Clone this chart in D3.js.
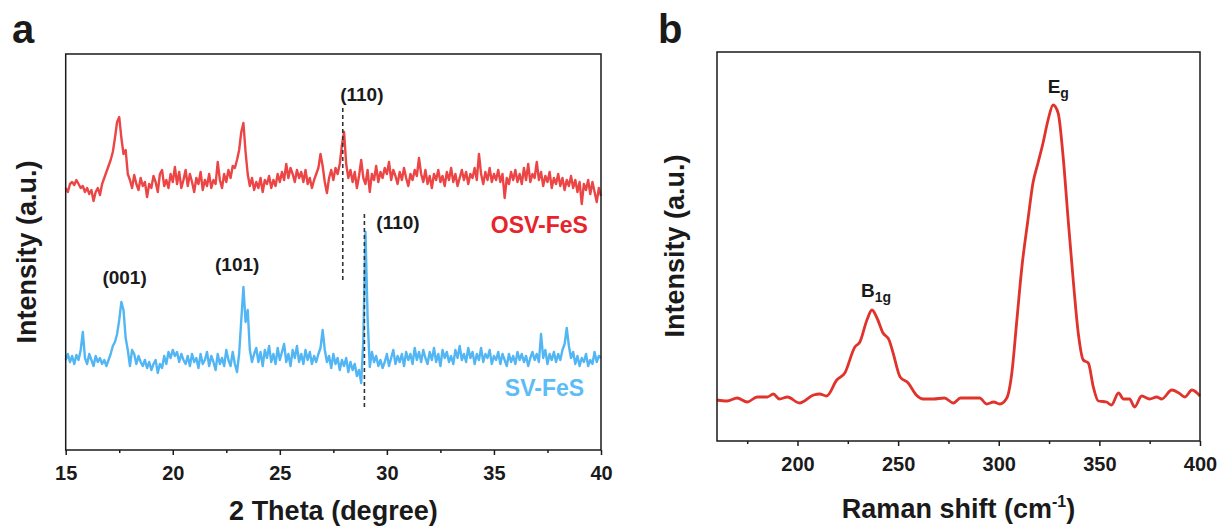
<html>
<head>
    <script src="https://cdnjs.cloudflare.com/ajax/libs/d3/7.8.5/d3.min.js"></script>
</head>
<style>
body {
    margin: 0;
    background-color: white;
    font-family: "Liberation Sans", Arial, sans-serif;
}
#canvas {
    background-color: white;
}
</style>
<body>
    <svg id="canvas" width="1221" height="529"></svg>

    <script>
    // ---- panel a : XRD, 2 theta 15..40 step 0.1 ----
    var thetaStart = 15, thetaStep = 0.1;
    var osvFeS = [
        262,258,266,268,265,270,266,262,264,258,   // 15
        262,256,260,249,258,262,255,266,272,278,   // 16
        284,290,298,312,328,333,312,296,300,276,   // 17
        270,262,275,266,260,272,264,268,253,266,   // 18
        262,274,268,258,276,280,264,270,262,276,   // 19
        268,283,266,278,262,270,280,264,276,268,   // 20
        258,272,266,278,260,270,264,276,262,270,   // 21
        266,288,270,262,276,268,280,272,284,282,   // 22
        290,300,318,327,298,276,264,272,260,268,   // 23
        262,272,258,270,266,274,262,270,264,276,   // 24
        268,278,270,286,272,282,276,268,280,272,   // 25
        278,268,280,266,272,262,270,276,282,296,   // 26
        284,268,257,272,280,270,282,276,286,305,   // 27
        318,286,272,280,268,278,262,274,290,272,   // 28
        266,280,258,276,270,284,268,278,272,282,   // 29
        276,288,270,280,274,266,278,270,282,272,   // 30
        264,276,270,280,274,292,276,268,280,266,   // 31
        274,262,276,270,280,268,274,264,278,270,   // 32
        282,268,276,264,272,280,270,278,266,276,   // 33
        272,282,270,296,276,266,278,270,282,268,   // 34
        276,270,280,268,276,252,272,266,278,270,   // 35
        280,268,276,266,282,270,286,268,276,272,   // 36
        288,270,278,264,274,268,278,262,272,266,   // 37
        276,264,272,260,270,264,274,262,270,258,   // 38
        268,246,266,260,270,256,268,258,248,262,   // 39
        254                                        // 40
    ];
    var svFeS = [
        90,96,88,94,86,95,90,100,118,92,           // 15
        86,96,90,84,94,88,92,86,90,84,             // 16
        90,96,104,108,116,130,148,140,112,100,     // 17
        84,100,96,86,94,88,84,90,82,88,            // 18
        80,86,90,77,86,82,94,86,98,92,             // 19
        100,94,98,88,96,90,86,94,84,96,            // 20
        88,92,82,96,86,90,98,84,94,88,             // 21
        80,96,86,92,84,100,90,84,98,86,            // 22
        78,96,130,163,128,140,100,88,96,102,       // 23
        88,98,84,100,92,104,88,96,86,102,          // 24
        90,98,106,88,96,84,100,92,104,88,          // 25
        96,86,100,90,98,86,94,88,96,102,           // 26
        120,100,88,94,82,96,86,92,80,90,           // 27
        84,92,78,88,80,86,74,80,67,110,            // 28
        218,132,83,98,88,94,84,90,82,88,           // 29
        96,84,92,100,86,94,88,96,84,98,            // 30
        90,96,86,102,90,98,88,100,92,86,           // 31
        98,90,102,88,96,84,100,92,98,88,           // 32
        94,86,100,92,104,90,96,88,102,92,          // 33
        98,86,96,90,102,88,96,92,100,86,           // 34
        94,90,98,86,96,90,84,96,88,94,             // 35
        86,98,90,96,88,94,84,92,98,90,             // 36
        96,88,116,92,100,86,96,90,98,88,           // 37
        96,90,100,106,122,104,92,98,86,94,         // 38
        84,92,88,96,84,90,86,98,88,94,             // 39
        92                                         // 40
    ];
    var xrdTicks = [15, 20, 25, 30, 35, 40];
    var xrdMinor = [17.5, 22.5, 27.5, 32.5, 37.5];
    // dashed guides: theta, intensity range
    var guideTheta = [27.94, 28.95];
    var guideFrom  = [170, 43];
    var guideTo    = [343, 237];
    // hkl labels
    var hklText  = ["(110)", "(110)", "(001)", "(101)"];
    var hklTheta = [28.83, 30.52, 17.75, 23.01];
    var hklInt   = [349, 221, 166, 179];
    var seriesNames = ["OSV-FeS", "SV-FeS"];
    var seriesTheta = [39.39, 39.21];
    var seriesInt   = [217, 54];

    // ---- panel b : Raman ----
    var ramanShift = [160,165,170,175,180,185,188,191,195,201,208,211,214.5,219.5,223.5,228.5,231,234.5,237,239.5,
        242.5,245.5,247.5,251,255,259,262.5,267.5,273,277.5,281,290.5,294,297.5,300.5,304,306.5,309,311.5,314.5,
        317,319.5,322,324.5,327,329.5,332,334.5,337,339.5,342,344.5,347,349.5,353.5,356,359.5,362,365,367.5,
        371,375,378.5,381,386,389.5,392.5,396,400];
    var ramanInt = [41,40,43,39,44,44,47,42,44,38,46,47,45,61,68,94,99,121,131,123,
        108,101,88,64,58,46,42,42,43,38,43,43,37,39,37,43,68,121,174,221,
        258,278,298,321,336,328,284,221,161,108,81,78,54,40,39,36,48,42,42,34,
        45,42,44,42,51,48,44,51,45];
    var ramanTicks = [200, 250, 300, 350, 400];
    var ramanMinor = [175, 225, 275, 325, 375];

    var canvas = d3.select("#canvas");
    var ink = "#1a1a1a";

    function frame(g, x0, y0, x1, y1) {
        g.append("rect")
            .attr("x", x0).attr("y", y0)
            .attr("width", x1 - x0).attr("height", y1 - y0)
            .attr("fill", "none").attr("stroke", ink).attr("stroke-width", 1.5);
    }

    function bottomAxis(g, scale, yPos, major, minor) {
        var ax = g.append("g").attr("transform", "translate(0," + yPos + ")")
            .call(d3.axisBottom(scale).tickValues(major).tickSize(5).tickPadding(11).tickFormat(d3.format("d")));
        ax.select(".domain").remove();
        ax.selectAll("line").attr("stroke", ink).attr("stroke-width", 1.5);
        ax.selectAll("text").attr("fill", ink)
            .style("font-family", "Liberation Sans, Arial, sans-serif")
            .style("font-weight", "bold").style("font-size", "20px");
        var mn = g.append("g").attr("transform", "translate(0," + yPos + ")")
            .call(d3.axisBottom(scale).tickValues(minor).tickSize(3).tickFormat(""));
        mn.select(".domain").remove();
        mn.selectAll("line").attr("stroke", ink).attr("stroke-width", 1.5);
    }

    function label(g, txt, x, y, size, color, anchor) {
        return g.append("text").attr("x", x).attr("y", y)
            .attr("text-anchor", anchor || "middle")
            .attr("fill", color || ink)
            .style("font-weight", "bold").style("font-size", size + "px")
            .text(txt);
    }

    // ======== panel a ========
    var ga = canvas.append("g");
    var xa = d3.scaleLinear().domain([15, 40]).range([65.7, 601]);
    var ya = d3.scaleLinear().domain([0, 396]).range([450, 54]);
    var theta = osvFeS.map(function(d, i) { return thetaStart + i * thetaStep; });

    var lineA = d3.line()
        .x(function(d, i) { return xa(theta[i]); })
        .y(function(d) { return ya(d); });

    ga.append("path").datum(osvFeS).attr("d", lineA)
        .attr("fill", "none").attr("stroke", "#ec4545").attr("stroke-width", 2.4).attr("stroke-linejoin", "round");
    ga.append("path").datum(svFeS).attr("d", lineA)
        .attr("fill", "none").attr("stroke", "#52b6f4").attr("stroke-width", 2.4).attr("stroke-linejoin", "round");

    guideTheta.forEach(function(t, i) {
        ga.append("line")
            .attr("x1", xa(t)).attr("x2", xa(t))
            .attr("y1", ya(guideFrom[i])).attr("y2", ya(guideTo[i]))
            .attr("stroke", "#333").attr("stroke-width", 1.6).attr("stroke-dasharray", "4,3");
    });

    hklText.forEach(function(t, i) {
        label(ga, t, xa(hklTheta[i]), ya(hklInt[i]), 19);
    });
    label(ga, seriesNames[0], xa(seriesTheta[0]), ya(seriesInt[0]), 23, "#e8242a", "end");
    label(ga, seriesNames[1], xa(seriesTheta[1]), ya(seriesInt[1]), 23, "#5cbcf5", "end");

    frame(ga, 65.7, 54, 601, 450);
    bottomAxis(ga, xa, 450, xrdTicks, xrdMinor);

    label(ga, "2 Theta (degree)", 333.4, 520, 27);
    label(ga, "Intensity (a.u.)", 0, 0, 27)
        .attr("transform", "translate(36,252) rotate(-90)");
    label(ga, "a", 12, 43, 40, ink, "start");

    // ======== panel b ========
    var gb = canvas.append("g");
    var xb = d3.scaleLinear().domain([160, 400]).range([717, 1200]);
    var yb = d3.scaleLinear().domain([0, 389]).range([441, 52]);

    var lineB = d3.line()
        .x(function(d, i) { return xb(ramanShift[i]); })
        .y(function(d) { return yb(d); })
        .curve(d3.curveMonotoneX);

    gb.append("path").datum(ramanInt).attr("d", lineB)
        .attr("fill", "none").attr("stroke", "#e0332b").attr("stroke-width", 2.8);

    // mode labels with subscripts
    var eg = label(gb, "E", xb(324.3), yb(348), 19, ink, "start");
    eg.append("tspan").attr("dy", 5).style("font-size", "14px").text("g");
    var b1g = label(gb, "B", xb(231.6), yb(144), 19, ink, "start");
    b1g.append("tspan").attr("dy", 5).style("font-size", "14px").text("1g");

    frame(gb, 717, 52, 1200, 441);
    bottomAxis(gb, xb, 441, ramanTicks, ramanMinor);

    var xl = label(gb, "Raman shift (cm", 958.5, 518, 27);
    xl.append("tspan").attr("dy", -11).style("font-size", "16px").text("-1");
    xl.append("tspan").attr("dy", 11).text(")");
    label(gb, "Intensity (a.u.)", 0, 0, 27)
        .attr("transform", "translate(684,246) rotate(-90)");
    label(gb, "b", 658, 43, 40, ink, "start");
    </script>
</body>
</html>
